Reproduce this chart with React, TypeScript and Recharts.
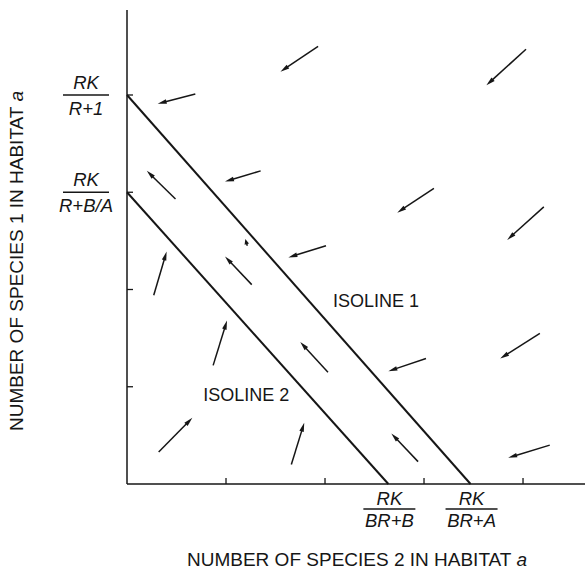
import { ComposedChart, XAxis, YAxis, ReferenceLine, ReferenceDot } from 'recharts'

const INK = '#161616'
const FONT = '"Liberation Sans", Arial, Helvetica, sans-serif'

// isolines, from their y-intercept to their x-intercept
const isoline1 = [{ x: 0, y: 4 }, { x: 3.47, y: 0 }]
const isoline2 = [{ x: 0, y: 3 }, { x: 2.64, y: 0 }]

const xTicks = [1, 2, 3, 4]
const yTicks = [1, 2, 3, 4]

// vector field: tail -> head
const arrows = [
  { x0: 1.93, y0: 4.50, x1: 1.55, y1: 4.24 },
  { x0: 4.03, y0: 4.47, x1: 3.63, y1: 4.10 },
  { x0: 0.69, y0: 4.01, x1: 0.31, y1: 3.91 },
  { x0: 1.35, y0: 3.22, x1: 0.99, y1: 3.11 },
  { x0: 3.10, y0: 3.04, x1: 2.73, y1: 2.79 },
  { x0: 4.21, y0: 2.85, x1: 3.84, y1: 2.51 },
  { x0: 0.49, y0: 2.93, x1: 0.20, y1: 3.22 },
  { x0: 1.215, y0: 2.45, x1: 1.195, y1: 2.52 },
  { x0: 2.01, y0: 2.45, x1: 1.63, y1: 2.33 },
  { x0: 0.27, y0: 1.94, x1: 0.40, y1: 2.39 },
  { x0: 1.26, y0: 2.05, x1: 0.99, y1: 2.34 },
  { x0: 4.17, y0: 1.55, x1: 3.77, y1: 1.29 },
  { x0: 0.87, y0: 1.22, x1: 1.01, y1: 1.68 },
  { x0: 2.03, y0: 1.15, x1: 1.75, y1: 1.46 },
  { x0: 3.02, y0: 1.29, x1: 2.64, y1: 1.16 },
  { x0: 0.32, y0: 0.33, x1: 0.66, y1: 0.68 },
  { x0: 1.66, y0: 0.20, x1: 1.79, y1: 0.63 },
  { x0: 2.94, y0: 0.23, x1: 2.67, y1: 0.52 },
  { x0: 4.27, y0: 0.40, x1: 3.85, y1: 0.27 },
]

const yFracs = [
  { y: 4, num: 'RK', den: 'R+1' },
  { y: 3, num: 'RK', den: 'R+B/A' },
]
const xFracs = [
  { x: 2.64, num: 'RK', den: 'BR+B' },
  { x: 3.47, num: 'RK', den: 'BR+A' },
]
const isoLabels = [
  { x: 2.08, y: 1.82, text: 'ISOLINE 1' },
  { x: 0.77, y: 0.85, text: 'ISOLINE 2' },
]

// eslint-disable-next-line @typescript-eslint/no-explicit-any
const Arrow = (p: any) => {
  const { x1, y1, x2, y2 } = p
  const dx = x2 - x1, dy = y2 - y1
  const len = Math.hypot(dx, dy) || 1
  const ux = dx / len, uy = dy / len
  const hl = Math.min(9, len * 0.75), hw = 2.3
  const bx = x2 - ux * hl, by = y2 - uy * hl
  return (
    <g>
      <line x1={x1} y1={y1} x2={bx + ux} y2={by + uy} stroke={INK} strokeWidth={1.5} />
      <polygon points={`${x2},${y2} ${bx - uy * hw},${by + ux * hw} ${bx + uy * hw},${by - ux * hw}`} fill={INK} />
    </g>
  )
}

// eslint-disable-next-line @typescript-eslint/no-explicit-any
const Frac = ({ cx, cy, num, den, w, dy }: any) => (
  <g fontFamily={FONT} fontSize={18.5} fontStyle="italic" fill={INK}>
    <text x={cx} y={cy + dy[0]} textAnchor="middle">{num}</text>
    <line x1={cx - w / 2} x2={cx + w / 2} y1={cy + dy[1]} y2={cy + dy[1]} stroke={INK} strokeWidth={1.4} />
    <text x={cx} y={cy + dy[2]} textAnchor="middle">{den}</text>
  </g>
)

const NoLabel = () => <g />

export default function App() {
  return (
    <div style={{ position: 'absolute', left: 0, top: 0, width: 585, height: 571, background: '#fff' }}>
      <ComposedChart width={585} height={571} margin={{ top: 10, right: 0, left: 127, bottom: 87 }}>
        <XAxis type="number" dataKey="x" domain={[0, 4.626]} ticks={xTicks} mirror tick={NoLabel}
          tickSize={6} allowDataOverflow axisLine={{ stroke: INK, strokeWidth: 1.5 }} tickLine={{ stroke: INK, strokeWidth: 1.3 }} />
        <YAxis type="number" dataKey="y" domain={[0, 4.874]} ticks={yTicks} mirror tick={NoLabel}
          tickSize={6} allowDataOverflow axisLine={{ stroke: INK, strokeWidth: 1.5 }} tickLine={{ stroke: INK, strokeWidth: 1.3 }} />
        <ReferenceLine segment={isoline1} stroke={INK} strokeWidth={2} />
        <ReferenceLine segment={isoline2} stroke={INK} strokeWidth={2} />
        {arrows.map((a, i) => (
          <ReferenceLine key={i} segment={[{ x: a.x0, y: a.y0 }, { x: a.x1, y: a.y1 }]} shape={Arrow} />
        ))}
        {yFracs.map(f => (
          <ReferenceDot key={f.den} x={0} y={f.y} r={0} stroke="none"
            // eslint-disable-next-line @typescript-eslint/no-explicit-any
            label={{ content: (p: any) => <Frac cx={p.viewBox.x - 41} cy={p.viewBox.y} num={f.num} den={f.den} w={46} dy={[-6, 0, 20]} /> }} />
        ))}
        {xFracs.map(f => (
          <ReferenceDot key={f.den} x={f.x} y={0} r={0} stroke="none"
            // eslint-disable-next-line @typescript-eslint/no-explicit-any
            label={{ content: (p: any) => <Frac cx={p.viewBox.x + 1} cy={p.viewBox.y} num={f.num} den={f.den} w={52} dy={[21, 25, 43]} /> }} />
        ))}
        {isoLabels.map(l => (
          <ReferenceDot key={l.text} x={l.x} y={l.y} r={0} stroke="none"
            // eslint-disable-next-line @typescript-eslint/no-explicit-any
            label={{ content: (p: any) => <text x={p.viewBox.x} y={p.viewBox.y} fontFamily={FONT} fontSize={18} fill={INK}>{l.text}</text> }} />
        ))}
      </ComposedChart>
      <div style={{ position: 'absolute', left: 357, top: 560, transform: 'translate(-50%, -50%)', whiteSpace: 'nowrap', fontFamily: FONT, fontSize: 19, color: INK }}>
        NUMBER OF SPECIES 2 IN HABITAT <i>a</i>
      </div>
      <div style={{ position: 'absolute', left: 17, top: 261, transform: 'translate(-50%, -50%) rotate(-90deg)', whiteSpace: 'nowrap', fontFamily: FONT, fontSize: 19, color: INK }}>
        NUMBER OF SPECIES 1 IN HABITAT <i>a</i>
      </div>
    </div>
  )
}
